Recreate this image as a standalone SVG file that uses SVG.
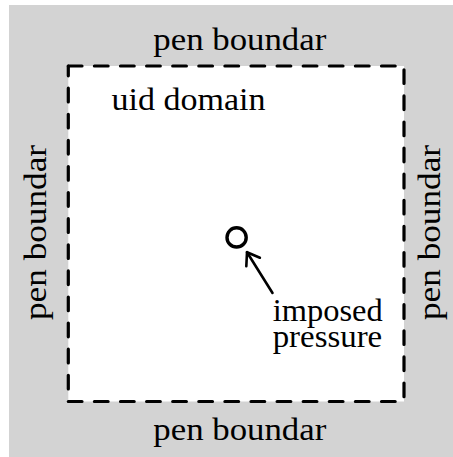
<svg xmlns="http://www.w3.org/2000/svg" width="453" height="457" viewBox="0 0 453 457">
  <defs>
    <style>
      .lbl { font-family: "Liberation Serif", "Times New Roman", serif; font-size: 31px; fill: #000; }
      .dash { stroke: #000; stroke-width: 3.2; stroke-dasharray: 13.7 12.4; stroke-linecap: round; fill: none; }
      .arrow { stroke: #000; stroke-width: 2.6; fill: none; stroke-linecap: round; stroke-linejoin: round; }
    </style>
    <marker id="head" markerUnits="userSpaceOnUse" markerWidth="30" markerHeight="30" viewBox="-15 -15 30 30" refX="0" refY="0" orient="auto" overflow="visible">
      <path d="M -11.5 -8 L 0 0 L -11.5 8" fill="none" stroke="#000" stroke-width="2.6" stroke-linecap="round" stroke-linejoin="round"/>
    </marker>
  </defs>

  <rect id="background" x="9" y="5" width="444" height="452" fill="#d3d3d3"/>

  <g id="fluid-domain">
    <rect x="68.3" y="66" width="335.7" height="335.5" fill="#ffffff"/>
    <g id="boundary">
      <line class="dash" x1="68.3" y1="66" x2="404" y2="66"/>
      <line class="dash" x1="404" y1="69.8" x2="404" y2="401.5"/>
      <line class="dash" x1="68.3" y1="401.5" x2="404" y2="401.5"/>
      <line class="dash" x1="68.3" y1="66" x2="68.3" y2="400" style="stroke-dashoffset:3.9"/>
    </g>
    <text class="lbl" x="111.5" y="110" textLength="154" lengthAdjust="spacingAndGlyphs">uid domain</text>
  </g>

  <g id="label-top">
    <text class="lbl" x="153.3" y="49.5" textLength="173" lengthAdjust="spacingAndGlyphs">pen boundar</text>
  </g>
  <g id="label-bottom">
    <text class="lbl" x="153.3" y="440" textLength="173" lengthAdjust="spacingAndGlyphs">pen boundar</text>
  </g>
  <g id="label-left">
    <text class="lbl" transform="translate(46,320) rotate(-90)" x="0" y="0" textLength="175" lengthAdjust="spacingAndGlyphs">pen boundar</text>
  </g>
  <g id="label-right">
    <text class="lbl" transform="translate(440,320) rotate(-90)" x="0" y="0" textLength="175" lengthAdjust="spacingAndGlyphs">pen boundar</text>
  </g>

  <g id="pressure-point">
    <circle cx="236.6" cy="237.4" r="9.6" fill="#ffffff" stroke="#000" stroke-width="3.4"/>
  </g>

  <g id="pressure-label">
    <text class="lbl" x="272.7" y="320.5" textLength="110" lengthAdjust="spacingAndGlyphs">imposed</text>
    <text class="lbl" x="272.7" y="346.5" textLength="109.5" lengthAdjust="spacingAndGlyphs">pressure</text>
  </g>

  <g id="connectors">
    <line class="arrow" x1="272.5" y1="293" x2="247" y2="252.2" marker-end="url(#head)"/>
  </g>
</svg>
